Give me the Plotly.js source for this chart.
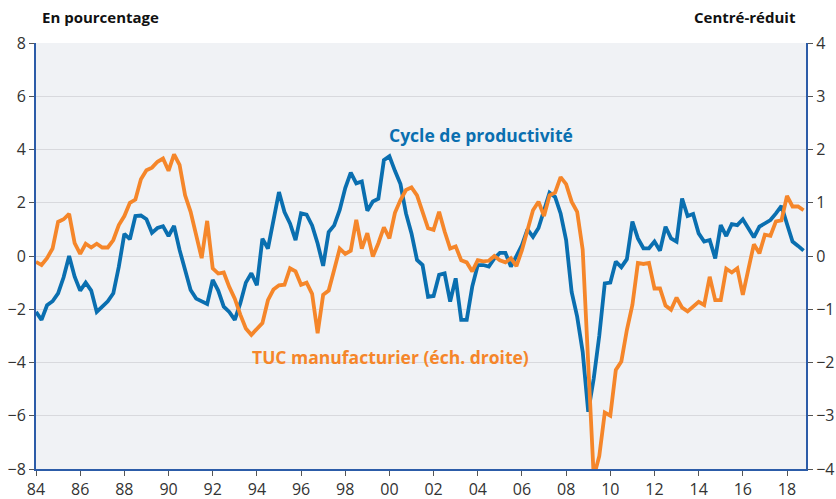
<!DOCTYPE html>
<html>
<head>
<meta charset="utf-8">
<script src="https://cdn.plot.ly/plotly-3.0.1.min.js"></script>
<style>html,body{margin:0;padding:0;background:#fff;}#chart{width:836px;height:499px;}</style>
</head>
<body>
<div id="chart"></div>
<script>
// Quarterly data, 1984Q1 .. 2018Q4
const firstYear = 1984;
const productivityCycle = [
 -2.1,-2.4,-1.85,-1.7,-1.4,-0.8,0.0,-0.78,-1.3,-1.0,-1.3,-2.1,-1.9,-1.7,-1.4,-0.4,
 0.83,0.63,1.5,1.52,1.38,0.87,1.05,1.12,0.75,1.13,0.23,-0.53,-1.28,-1.6,-1.7,-1.8,
 -0.9,-1.3,-1.9,-2.1,-2.4,-1.77,-1.0,-0.65,-1.1,0.65,0.28,1.4,2.4,1.65,1.22,0.6,
 1.6,1.55,1.15,0.47,-0.37,0.9,1.15,1.73,2.55,3.13,2.73,2.8,1.7,2.05,2.15,3.6,
 3.75,3.2,2.7,1.6,0.85,-0.15,-0.34,-1.53,-1.5,-0.71,-0.65,-1.71,-0.84,-2.4,-2.4,-1.15,
 -0.34,-0.34,-0.4,-0.09,0.12,0.12,-0.4,0.0,0.41,1.0,0.72,1.05,1.66,2.38,2.22,1.6,
 0.6,-1.35,-2.28,-3.6,-5.85,-4.6,-3.0,-1.03,-1.0,-0.21,-0.42,-0.12,1.29,0.66,0.29,0.29,
 0.54,0.2,1.1,0.66,0.54,2.16,1.5,1.58,0.85,0.54,0.6,-0.09,1.16,0.75,1.2,1.16,
 1.38,1.04,0.7,1.1,1.22,1.35,1.6,1.88,1.2,0.54,0.38,0.2
];
const tucManufacturier = [
 -0.11,-0.17,-0.04,0.14,0.64,0.69,0.79,0.24,0.04,0.23,0.16,0.23,0.16,0.16,0.3,0.58,
 0.75,1.0,1.06,1.44,1.61,1.66,1.77,1.83,1.6,1.91,1.71,1.14,0.83,0.36,-0.04,0.66,
 -0.23,-0.33,-0.31,-0.58,-0.8,-1.1,-1.36,-1.48,-1.36,-1.26,-0.83,-0.63,-0.55,-0.54,-0.23,-0.29,
 -0.54,-0.5,-0.71,-1.45,-0.73,-0.65,-0.26,0.14,0.04,0.1,0.68,0.14,0.43,-0.01,0.24,0.54,
 0.33,0.81,1.05,1.24,1.29,1.14,0.83,0.52,0.49,0.83,0.46,0.14,0.18,-0.08,-0.12,-0.29,
 -0.08,-0.1,-0.09,0.0,-0.08,-0.12,-0.04,-0.19,0.11,0.49,0.86,1.02,0.75,1.14,1.19,1.48,
 1.35,1.02,0.83,0.12,-2.2,-4.15,-3.76,-2.94,-3.0,-2.14,-1.98,-1.39,-0.92,-0.13,-0.15,-0.13,
 -0.61,-0.61,-0.93,-1.01,-0.78,-0.97,-1.04,-0.96,-0.86,-0.92,-0.39,-0.83,-0.83,-0.24,-0.31,-0.23,
 -0.73,-0.25,0.22,0.05,0.4,0.38,0.65,0.67,1.13,0.93,0.93,0.86
];
const tickYears = [1984,1986,1988,1990,1992,1994,1996,1998,2000,2002,2004,2006,2008,2010,2012,2014,2016,2018];
const tickLabels = ["84","86","88","90","92","94","96","98","00","02","04","06","08","10","12","14","16","18"];

const quarters = productivityCycle.map((_, i) => firstYear + i / 4);

const blue = '#0a6fb0', orange = '#f5862a', axisBlue = '#2c5ca8';
const fontFam = '"Open Sans", "Noto Sans", sans-serif';

const traces = [
  {x: quarters, y: productivityCycle, type: 'scatter', mode: 'lines', yaxis: 'y',
   line: {color: blue, width: 3.8}, name: 'Cycle de productivité'},
  {x: quarters, y: tucManufacturier, type: 'scatter', mode: 'lines', yaxis: 'y2',
   line: {color: orange, width: 3.8}, name: 'TUC manufacturier'}
];

const layout = {
  width: 836, height: 499,
  margin: {l: 36, r: 30, t: 43, b: 30},
  paper_bgcolor: '#ffffff', plot_bgcolor: '#f0f2f5',
  showlegend: false,
  font: {family: fontFam, size: 16, color: '#333'},
  xaxis: {
    range: [1984, 2018.86], tickvals: tickYears, ticktext: tickLabels,
    showgrid: false, zeroline: false, showline: true, linecolor: axisBlue, linewidth: 2,
    ticks: 'outside', ticklen: 5, tickcolor: '#555', tickwidth: 1,
    tickfont: {family: fontFam, size: 16, color: '#333'}
  },
  yaxis: {
    range: [-8, 8], dtick: 2, tick0: 0, showgrid: true, gridcolor: '#d8d9dd', gridwidth: 1,
    zeroline: false, showline: true, linecolor: axisBlue, linewidth: 2,
    ticks: 'outside', ticklen: 5, tickcolor: '#555',
    tickfont: {family: fontFam, size: 16, color: '#333'}
  },
  yaxis2: {
    range: [-4, 4], dtick: 1, tick0: 0, overlaying: 'y', side: 'right',
    showgrid: false, zeroline: false, showline: true, linecolor: axisBlue, linewidth: 2,
    ticks: 'outside', ticklen: 5, tickcolor: '#555',
    tickfont: {family: fontFam, size: 16, color: '#333'}
  },
  annotations: [
    {xref: 'paper', yref: 'paper', x: 0.0052, y: 1.0, yshift: 26, xanchor: 'left', yanchor: 'middle',
     text: '<b>En pourcentage</b>', showarrow: false, font: {family: fontFam, size: 15, color: '#111'}},
    {xref: 'paper', yref: 'paper', x: 0.99, y: 1.0, yshift: 26, xanchor: 'right', yanchor: 'middle',
     text: '<b>Centré-réduit</b>', showarrow: false, font: {family: fontFam, size: 15, color: '#111'}},
    {xref: 'x', yref: 'y', x: 2004.15, y: 4.55, xanchor: 'center', yanchor: 'middle',
     text: '<b>Cycle de productivité</b>', showarrow: false, font: {family: fontFam, size: 17.5, color: blue}},
    {xref: 'x', yref: 'y', x: 2000.05, y: -3.8, xanchor: 'center', yanchor: 'middle',
     text: '<b>TUC manufacturier (éch. droite)</b>', showarrow: false, font: {family: fontFam, size: 17.5, color: orange}}
  ]
};

Plotly.newPlot('chart', traces, layout, {staticPlot: true, displayModeBar: false});
</script>
</body>
</html>
